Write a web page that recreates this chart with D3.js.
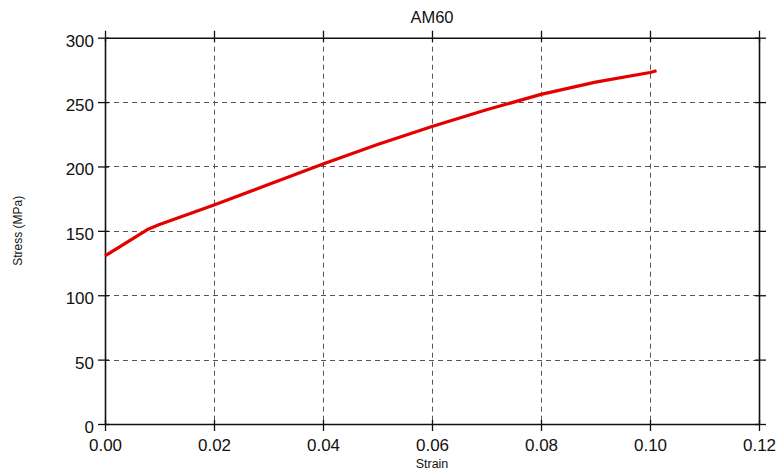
<!DOCTYPE html>
<html>
<head>
<meta charset="utf-8">
<script src="https://cdn.jsdelivr.net/npm/d3@7"></script>
<style>
  html, body { margin: 0; padding: 0; background: #fff; }
  svg { display: block; }
  text { font-family: "Liberation Sans", Arial, sans-serif; fill: #111; }
</style>
</head>
<body>
<div id="chart"></div>
<script>
// ---- data ----
const title = "AM60";
const xLabel = "Strain";
const yLabel = "Stress (MPa)";
const strain = [0.000, 0.008, 0.010, 0.015, 0.020, 0.030, 0.040, 0.050, 0.060, 0.070, 0.080, 0.090, 0.100, 0.1012];
const stress = [130.5, 151.5, 155, 162.5, 170, 186, 202, 217, 231, 244, 256, 265.5, 273, 274.3];
const xTicks = [0, 0.02, 0.04, 0.06, 0.08, 0.10, 0.12];
const yTicks = [0, 50, 100, 150, 200, 250, 300];

// ---- layout ----
const W = 784, H = 473;
const margin = { left: 105, right: 25, top: 37.7, bottom: 49 };
const svg = d3.select("#chart").append("svg").attr("width", W).attr("height", H);

const x = d3.scaleLinear().domain([0, 0.12]).range([margin.left, W - margin.right]);
const y = d3.scaleLinear().domain([0, 300]).range([H - margin.bottom, margin.top]);

const x0 = x.range()[0], x1 = x.range()[1], y0 = y.range()[0], y1 = y.range()[1];

// grid
const grid = svg.append("g").attr("stroke", "#555").attr("stroke-width", 1).attr("stroke-dasharray", "5,4");
grid.selectAll("line.v").data(xTicks.filter(t => t > 0 && t < 0.12)).enter().append("line")
  .attr("x1", d => Math.round(x(d)) + 0.5).attr("x2", d => Math.round(x(d)) + 0.5)
  .attr("y1", y1).attr("y2", y0);
grid.selectAll("line.h").data(yTicks.filter(t => t > 0 && t < 300)).enter().append("line")
  .attr("y1", d => Math.round(y(d)) + 0.5).attr("y2", d => Math.round(y(d)) + 0.5)
  .attr("x1", x0).attr("x2", x1);

// axes (all four sides, ticks crossing the frame)
const fmtX = d3.format(".2f");
const axB = d3.axisBottom(x).tickValues(xTicks).tickFormat(fmtX).tickSizeInner(7).tickSizeOuter(0).tickPadding(8);
const axT = d3.axisTop(x).tickValues(xTicks).tickFormat("").tickSizeInner(7).tickSizeOuter(0);
const axL = d3.axisLeft(y).tickValues(yTicks).tickFormat(d3.format("d")).tickSizeInner(7).tickSizeOuter(0).tickPadding(4);
const axR = d3.axisRight(y).tickValues(yTicks).tickFormat("").tickSizeInner(7).tickSizeOuter(0);

function styleAxis(g) {
  g.select(".domain").attr("stroke", "#111").attr("stroke-width", 1.6);
  g.selectAll(".tick line").attr("stroke", "#111").attr("stroke-width", 1.3);
  g.selectAll(".tick text").attr("font-size", 17).attr("fill", "#111")
    .attr("font-family", "'Liberation Sans', Arial, sans-serif");
}
function innerTicks(g, dir) {
  const side = g.attr("data-side");
  g.selectAll(".tick").append("line").attr("stroke", "#111").attr("stroke-width", 1.3)
    .attr(dir === "v" ? "y2" : "x2", dir === "v" ? (side === "b" ? -4 : 4) : (side === "l" ? 4 : -4));
}

const gB = svg.append("g").attr("data-side", "b").attr("transform", `translate(0,${y0})`).call(axB);
const gT = svg.append("g").attr("data-side", "t").attr("transform", `translate(0,${y1})`).call(axT);
const gL = svg.append("g").attr("data-side", "l").attr("transform", `translate(${x0},0)`).call(axL);
const gR = svg.append("g").attr("data-side", "r").attr("transform", `translate(${x1},0)`).call(axR);
[gB, gT, gL, gR].forEach(styleAxis);
innerTicks(gB, "v"); innerTicks(gT, "v"); innerTicks(gL, "h"); innerTicks(gR, "h");
gL.selectAll(".tick text").attr("dy", "0.5em");
gB.selectAll(".tick text").attr("dy", "0.71em");

// line
const pts = strain.map((s, i) => [s, stress[i]]);
svg.append("path").datum(pts)
  .attr("fill", "none").attr("stroke", "#e50000").attr("stroke-width", 3.2)
  .attr("stroke-linejoin", "round")
  .attr("d", d3.line().x(d => x(d[0])).y(d => y(d[1])).curve(d3.curveLinear));

// labels
svg.append("text").attr("x", (x0 + x1) / 2).attr("y", 22.5).attr("text-anchor", "middle")
  .attr("font-size", 16.5).text(title);
svg.append("text").attr("x", (x0 + x1) / 2).attr("y", 468).attr("text-anchor", "middle")
  .attr("font-size", 12.5).text(xLabel);
svg.append("text").attr("transform", `translate(22,${(y0 + y1) / 2}) rotate(-90)`)
  .attr("text-anchor", "middle").attr("font-size", 12).text(yLabel);
</script>
</body>
</html>
